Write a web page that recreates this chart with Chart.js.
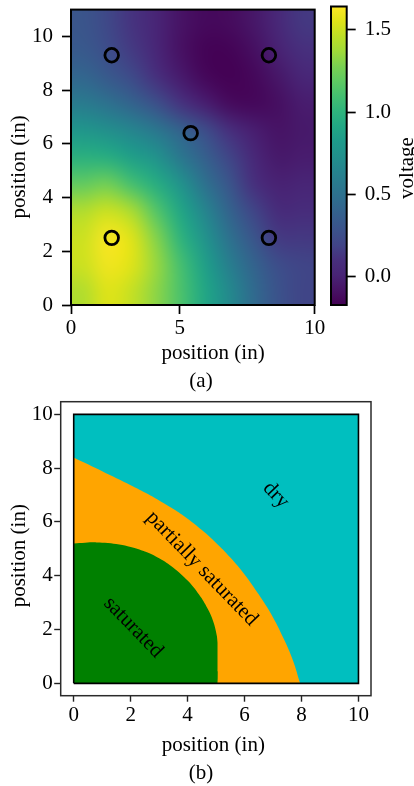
<!DOCTYPE html>
<html><head><meta charset="utf-8">
<script src="https://cdn.jsdelivr.net/npm/chart.js@4/dist/chart.umd.min.js"></script>
<style>
html,body{margin:0;padding:0;background:#fff;}
#wrap{position:relative;width:414px;height:786px;overflow:hidden;background:#fff;}
canvas{position:absolute;left:0;}
</style>
</head><body><div id="wrap">
<canvas id="cA" width="414" height="395" style="top:0px"></canvas>
<canvas id="cCB" width="414" height="395" style="top:0px"></canvas>
<canvas id="cB" width="414" height="396" style="top:390px"></canvas>
</div>
<script>
// ================= DATA: panel (a) =================
const xTickValuesA = [0, 4.46, 10];
const xTickLabelsA = ['0', '5', '10'];
const yTickValuesA = [0, 2, 4, 6, 8, 10];
const colorbarTicks = [0.0, 0.5, 1.0, 1.5];
const voltageMin = -0.17;
const voltageMax = 1.64;
const sensorX = [1.67, 8.12, 4.91, 1.67, 8.12];
const sensorY = [9.3, 9.3, 6.4, 2.5, 2.5];
// voltage, cell centres x = 0.5 .. 9.5, one row per y (top to bottom)
const voltageAtY10_5 = [0.30, 0.22, 0.12, 0.02, -0.08, -0.13, -0.12, -0.06, 0.04, 0.14];
const voltageAtY9_5  = [0.33, 0.25, 0.15, 0.03, -0.09, -0.16, -0.16, -0.10, 0.00, 0.10];
const voltageAtY8_5  = [0.42, 0.33, 0.23, 0.10, -0.04, -0.14, -0.17, -0.14, -0.06, 0.03];
const voltageAtY7_5  = [0.58, 0.50, 0.40, 0.27, 0.12, -0.02, -0.12, -0.14, -0.10, -0.03];
const voltageAtY6_5  = [0.78, 0.72, 0.65, 0.55, 0.40, 0.25, 0.10, -0.02, -0.08, -0.05];
const voltageAtY5_5  = [0.98, 0.95, 0.85, 0.75, 0.55, 0.38, 0.20, 0.04, -0.05, -0.03];
const voltageAtY4_5  = [1.20, 1.25, 1.10, 0.95, 0.75, 0.50, 0.30, 0.10, 0.00, 0.02];
const voltageAtY3_5  = [1.42, 1.50, 1.40, 1.15, 0.90, 0.65, 0.40, 0.20, 0.07, 0.08];
const voltageAtY2_5  = [1.50, 1.62, 1.55, 1.30, 1.00, 0.75, 0.50, 0.30, 0.15, 0.14];
const voltageAtY1_5  = [1.50, 1.60, 1.55, 1.35, 1.10, 0.85, 0.60, 0.40, 0.25, 0.20];
const voltageAtY0_5  = [1.42, 1.55, 1.48, 1.32, 1.12, 0.90, 0.68, 0.45, 0.28, 0.20];
const voltageRows = [voltageAtY10_5, voltageAtY9_5, voltageAtY8_5, voltageAtY7_5, voltageAtY6_5,
  voltageAtY5_5, voltageAtY4_5, voltageAtY3_5, voltageAtY2_5, voltageAtY1_5, voltageAtY0_5];

// ================= DATA: panel (b) =================
const tickValuesB = [0, 2, 4, 6, 8, 10];
const saturatedX = [0, 0.4, 0.8, 1.2, 1.6, 2.0, 2.5, 3.0, 3.5, 4.0, 4.4, 4.7, 4.9, 5.02, 5.09, 5.11, 5.09, 5.05];
const saturatedY = [5.2, 5.23, 5.24, 5.22, 5.16, 5.07, 4.9, 4.65, 4.3, 3.82, 3.3, 2.78, 2.3, 1.8, 1.3, 0.9, 0.45, 0];
const partialX = [0, 0.5, 1, 1.5, 2, 2.5, 3, 3.5, 4, 4.5, 5, 5.5, 6, 6.5, 7, 7.4, 7.7, 7.95];
const partialY = [8.4, 8.14, 7.88, 7.62, 7.36, 7.09, 6.8, 6.48, 6.12, 5.7, 5.22, 4.68, 4.05, 3.3, 2.45, 1.6, 0.85, 0];
const dryX = [0, 10];
const dryY = [10, 10];
const boxX = [0, 10, 10, 0, 0];
const boxY = [0, 0, 10, 10, 0];
const regionNames = ['dry', 'partially saturated', 'saturated'];
const regionLabelX = [7.1, 4.5, 2.09];
const regionLabelY = [7.0, 4.27, 2.08];

// ================= STYLE =================
const FONT = 'Liberation Serif, "Times New Roman", DejaVu Serif, serif';
const FS = 21;
const viridisStops = ['#440154','#471365','#482475','#472f7d','#414487','#3b528b','#355f8d','#2f6c8e','#2a788e','#25848e',
  '#21918c','#1e9b8a','#22a884','#2fb47c','#44bf70','#5ec962','#7ad151','#a0da39','#bddf26','#dfe318','#fde725'];
function hexRgb(h){return [parseInt(h.slice(1,3),16),parseInt(h.slice(3,5),16),parseInt(h.slice(5,7),16)];}
const viridisRgb = viridisStops.map(hexRgb);
function viridis(t){
  t = Math.max(0, Math.min(1, t));
  const n = viridisRgb.length - 1, f = t * n, i = Math.min(n - 1, Math.floor(f)), u = f - i;
  const a = viridisRgb[i], b = viridisRgb[i + 1];
  return [0,1,2].map(k => Math.round(a[k] + (b[k] - a[k]) * u));
}
function zip(xs, ys){ return xs.map((x, i) => ({x, y: ys[i]})); }
function txt(ctx, s, x, y, rot){
  ctx.save(); ctx.translate(x, y); ctx.rotate(rot || 0);
  ctx.font = FS + 'px ' + FONT; ctx.fillStyle = '#000';
  ctx.textAlign = 'center'; ctx.textBaseline = 'middle';
  ctx.fillText(s, 0, 0); ctx.restore();
}

Chart.defaults.font.family = FONT;
Chart.defaults.font.size = FS;
Chart.defaults.color = '#000';
Chart.defaults.animation = false;
Chart.defaults.responsive = false;
Chart.defaults.plugins.legend.display = false;
Chart.defaults.plugins.tooltip.enabled = false;

function fixedTicks(values){ return function(scale){ scale.ticks = values.map(v => ({value: v})); }; }

// ================= PANEL (a) heat map =================
const heatPlugin = {
  id: 'heat',
  beforeDatasetsDraw(chart){
    const {ctx, scales: {x, y}} = chart;
    const rows = voltageRows.length, cols = voltageRows[0].length;
    const off = document.createElement('canvas');
    off.width = cols + 2; off.height = rows + 2;
    const octx = off.getContext('2d');
    const img = octx.createImageData(cols + 2, rows + 2);
    for (let r = 0; r < rows + 2; r++) {
      for (let c = 0; c < cols + 2; c++) {
        const rr = Math.min(rows - 1, Math.max(0, r - 1)), cc = Math.min(cols - 1, Math.max(0, c - 1));
        const v = voltageRows[rr][cc];
        const col = viridis((v - voltageMin) / (voltageMax - voltageMin));
        const k = (r * (cols + 2) + c) * 4;
        img.data[k] = col[0]; img.data[k+1] = col[1]; img.data[k+2] = col[2]; img.data[k+3] = 255;
      }
    }
    octx.putImageData(img, 0, 0);
    const l = x.getPixelForValue(0), rgt = x.getPixelForValue(10);
    const t = y.getPixelForValue(rows), b = y.getPixelForValue(0);
    ctx.save();
    ctx.imageSmoothingEnabled = true;
    ctx.imageSmoothingQuality = 'high';
    ctx.drawImage(off, 1, 1, cols, rows, l, t, rgt - l, b - t);
    ctx.restore();
  },
  afterDatasetsDraw(chart){
    const {ctx, chartArea: a} = chart;
    ctx.save(); ctx.strokeStyle = '#000'; ctx.lineWidth = 2;
    ctx.strokeRect(a.left, a.top, a.right - a.left, a.bottom - a.top);
    ctx.restore();
  },
  afterDraw(chart){
    const ctx = chart.ctx;
    txt(ctx, 'position (in)', 213, 353, 0);
    txt(ctx, 'position (in)', 19, 167, -Math.PI / 2);
    txt(ctx, '(a)', 201, 381, 0);
  }
};

new Chart(document.getElementById('cA'), {
  type: 'scatter',
  data: { datasets: [{
    data: zip(sensorX, sensorY),
    pointRadius: 6.8, pointBorderWidth: 2.8,
    pointBackgroundColor: 'rgba(0,0,0,0)', pointBorderColor: '#000'
  }]},
  options: {
    layout: { padding: { left: 0, right: 99.3, top: 6.5, bottom: 0 } },
    scales: {
      x: {
        type: 'linear', min: 0, max: 10,
        afterBuildTicks: fixedTicks(xTickValuesA),
        afterFit(s){ s.height = 90; s.paddingLeft = 0; s.paddingRight = 0; },
        ticks: { callback: (v, i) => xTickLabelsA[i], padding: 1.7, maxRotation: 0, autoSkip: false },
        grid: { drawOnChartArea: false, tickLength: 9, tickWidth: 1.7, tickColor: '#000' },
        border: { display: false }
      },
      y: {
        type: 'linear', min: 0, max: 11,
        afterBuildTicks: fixedTicks(yTickValuesA),
        afterFit(s){ s.width = 71; s.paddingTop = 0; s.paddingBottom = 0; },
        ticks: { callback: v => String(v), padding: 9, autoSkip: false },
        grid: { drawOnChartArea: false, tickLength: 9, tickWidth: 1.7, tickColor: '#000' },
        border: { display: false }
      }
    }
  },
  plugins: [heatPlugin]
});

// ================= PANEL (a) colour bar =================
const cbPlugin = {
  id: 'cb',
  beforeDatasetsDraw(chart){
    const {ctx, chartArea: a, scales: {y}} = chart;
    const pb = y.getPixelForValue(voltageMin), pt = y.getPixelForValue(voltageMax);
    const g = ctx.createLinearGradient(0, pb, 0, pt);
    viridisStops.forEach((c, i) => g.addColorStop(i / (viridisStops.length - 1), c));
    ctx.save(); ctx.fillStyle = g;
    ctx.fillRect(a.left, a.top, a.right - a.left, a.bottom - a.top);
    ctx.strokeStyle = '#000'; ctx.lineWidth = 2;
    ctx.strokeRect(a.left, a.top, a.right - a.left, a.bottom - a.top);
    ctx.restore();
  },
  afterDraw(chart){
    txt(chart.ctx, 'voltage', 407.5, 168, -Math.PI / 2);
  }
};
new Chart(document.getElementById('cCB'), {
  type: 'scatter',
  data: { datasets: [{ data: [] }] },
  options: {
    layout: { padding: { left: 331, right: 7.3, top: 6.5, bottom: 90 } },
    scales: {
      x: { display: false, min: 0, max: 1 },
      y: {
        type: 'linear', position: 'right', min: voltageMin, max: voltageMax,
        afterBuildTicks: fixedTicks(colorbarTicks),
        afterFit(s){ s.width = 60; s.paddingTop = 0; s.paddingBottom = 0; },
        ticks: { callback: v => v.toFixed(1), padding: 9, autoSkip: false },
        grid: { drawOnChartArea: false, tickLength: 9, tickWidth: 1.7, tickColor: '#000' },
        border: { display: false }
      }
    }
  },
  plugins: [cbPlugin]
});

// ================= PANEL (b) regions =================
const regionPlugin = {
  id: 'regions',
  afterDatasetsDraw(chart){
    const {ctx, chartArea: a, scales: {x, y}} = chart;
    regionNames.forEach((n, i) => {
      txt(ctx, n, x.getPixelForValue(regionLabelX[i]), y.getPixelForValue(regionLabelY[i]), 46 * Math.PI / 180);
    });
    ctx.save(); ctx.strokeStyle = '#2b2b2b'; ctx.lineWidth = 1.5;
    ctx.strokeRect(a.left, a.top, a.right - a.left, a.bottom - a.top);
    ctx.restore();
  },
  afterDraw(chart){
    const ctx = chart.ctx;
    txt(ctx, 'position (in)', 213.3, 355, 0);
    txt(ctx, 'position (in)', 19, 165.7, -Math.PI / 2);
    txt(ctx, '(b)', 201, 383, 0);
  }
};
const areaStyle = { showLine: true, pointRadius: 0, borderWidth: 0, fill: 'origin', tension: 0.4 };
new Chart(document.getElementById('cB'), {
  type: 'scatter',
  data: { datasets: [
    { data: zip(boxX, boxY), showLine: true, pointRadius: 0, borderColor: '#000', borderWidth: 1.6, fill: false, tension: 0 },
    Object.assign({ data: zip(saturatedX, saturatedY), backgroundColor: '#008000', borderColor: '#008000' }, areaStyle),
    Object.assign({ data: zip(partialX, partialY), backgroundColor: '#ffa500', borderColor: '#ffa500' }, areaStyle),
    Object.assign({ data: zip(dryX, dryY), backgroundColor: '#00bfbf', borderColor: '#00bfbf' }, areaStyle, { tension: 0 })
  ]},
  options: {
    layout: { padding: { left: 0, right: 43, top: 11.7, bottom: 0 } },
    scales: {
      x: {
        type: 'linear', min: -0.457, max: 10.44,
        afterBuildTicks: fixedTicks(tickValuesB),
        afterFit(s){ s.height = 90.3; s.paddingLeft = 0; s.paddingRight = 0; },
        ticks: { callback: v => String(v), padding: 1.5, maxRotation: 0, autoSkip: false },
        grid: { drawOnChartArea: false, tickLength: 6, tickWidth: 1.4, tickColor: '#222' },
        border: { display: false }
      },
      y: {
        type: 'linear', min: -0.46, max: 10.47,
        afterBuildTicks: fixedTicks(tickValuesB),
        afterFit(s){ s.width = 60.7; s.paddingTop = 0; s.paddingBottom = 0; },
        ticks: { callback: v => String(v), padding: 1.5, autoSkip: false },
        grid: { drawOnChartArea: false, tickLength: 6.5, tickWidth: 1.4, tickColor: '#222' },
        border: { display: false }
      }
    }
  },
  plugins: [regionPlugin]
});
</script></body></html>
